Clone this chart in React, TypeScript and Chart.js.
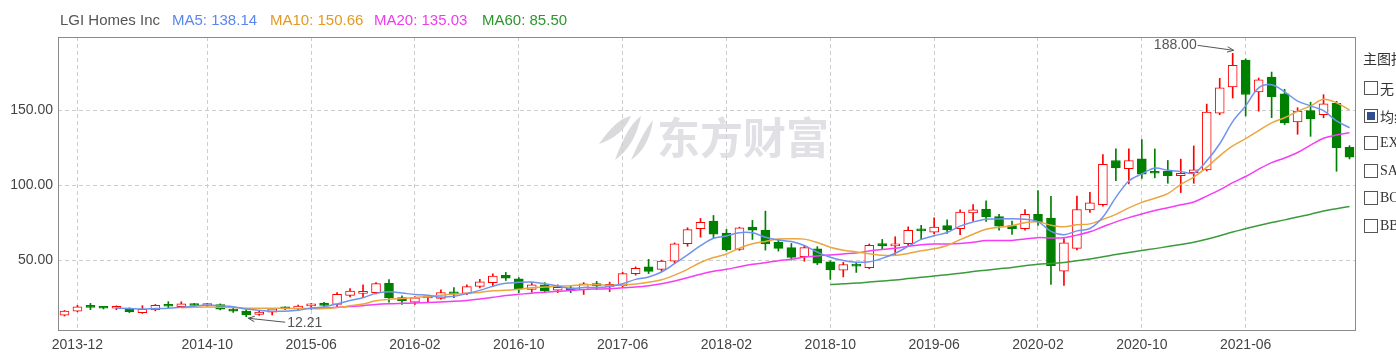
import React, { useEffect, useRef } from 'react';
import { Chart, registerables } from 'chart.js';

Chart.register(...registerables);

const months = [
  '2013-11', '2013-12',
  '2014-01', '2014-02', '2014-03', '2014-04', '2014-05', '2014-06', '2014-07', '2014-08', '2014-09', '2014-10', '2014-11', '2014-12',
  '2015-01', '2015-02', '2015-03', '2015-04', '2015-05', '2015-06', '2015-07', '2015-08', '2015-09', '2015-10', '2015-11', '2015-12',
  '2016-01', '2016-02', '2016-03', '2016-04', '2016-05', '2016-06', '2016-07', '2016-08', '2016-09', '2016-10', '2016-11', '2016-12',
  '2017-01', '2017-02', '2017-03', '2017-04', '2017-05', '2017-06', '2017-07', '2017-08', '2017-09', '2017-10', '2017-11', '2017-12',
  '2018-01', '2018-02', '2018-03', '2018-04', '2018-05', '2018-06', '2018-07', '2018-08', '2018-09', '2018-10', '2018-11', '2018-12',
  '2019-01', '2019-02', '2019-03', '2019-04', '2019-05', '2019-06', '2019-07', '2019-08', '2019-09', '2019-10', '2019-11', '2019-12',
  '2020-01', '2020-02', '2020-03', '2020-04', '2020-05', '2020-06', '2020-07', '2020-08', '2020-09', '2020-10', '2020-11', '2020-12',
  '2021-01', '2021-02', '2021-03', '2021-04', '2021-05', '2021-06', '2021-07', '2021-08', '2021-09', '2021-10', '2021-11', '2021-12',
  '2022-01', '2022-02',
];

const opens = [
  13.3, 16.0, 18.9, 18.6, 17.9, 17.6, 15.0, 16.7, 20.0, 19.0,
  20.6, 19.7, 20.4, 17.4, 16.0, 13.8, 15.2, 18.3, 17.4, 19.5,
  21.3, 20.5, 26.5, 27.8, 28.3, 34.5, 25.0, 22.0, 24.8, 24.5,
  28.8, 27.8, 32.5, 35.0, 39.8, 37.5, 30.5, 33.5, 30.0, 31.5,
  30.3, 34.4, 32.5, 32.8, 41.0, 45.5, 43.8, 49.3, 61.0, 71.0,
  76.0, 68.0, 57.2, 72.0, 69.8, 62.0, 58.3, 52.3, 57.6, 48.9,
  43.3, 47.3, 45.0, 61.0, 59.5, 61.0, 70.9, 68.7, 73.0, 71.0,
  81.5, 84.0, 79.0, 73.0, 71.0, 80.5, 78.0, 42.7, 57.8, 83.5,
  87.0, 116.5, 111.0, 117.6, 109.3, 109.5, 106.3, 108.3, 110.2, 148.0,
  165.6, 183.5, 162.2, 172.2, 161.0, 142.3, 149.8, 147.0, 154.7, 125.3,
];

const highs = [
  16.4, 19.8, 21.1, 18.9, 19.5, 18.2, 19.6, 20.4, 22.3, 22.2,
  21.1, 21.0, 20.8, 18.6, 17.1, 16.0, 17.8, 18.8, 20.0, 21.0,
  21.8, 28.3, 31.0, 33.5, 35.0, 37.0, 26.2, 25.6, 26.0, 30.1,
  31.7, 33.5, 37.1, 40.9, 41.8, 38.4, 35.0, 35.0, 33.5, 32.5,
  35.0, 35.8, 35.3, 41.9, 45.5, 50.5, 50.0, 61.5, 71.6, 77.8,
  79.8, 70.5, 72.0, 76.5, 82.7, 64.0, 61.1, 59.2, 59.0, 49.5,
  48.5, 48.6, 60.8, 63.8, 65.6, 72.2, 73.3, 78.2, 76.9, 83.5,
  87.1, 89.6, 80.5, 76.0, 83.8, 96.4, 92.5, 64.3, 92.7, 95.3,
  120.5, 124.2, 124.2, 130.5, 124.2, 116.5, 117.4, 126.2, 154.1, 171.3,
  188.0, 184.3, 171.5, 175.5, 164.0, 151.7, 155.4, 160.4, 156.0, 126.4,
];

const lows = [
  12.7, 15.5, 16.9, 17.4, 16.9, 15.0, 14.4, 16.2, 18.2, 18.2,
  19.0, 19.2, 16.8, 15.1, 12.21, 13.1, 13.5, 17.0, 16.8, 17.1,
  19.3, 18.9, 25.5, 24.9, 27.5, 22.0, 20.4, 20.4, 22.0, 24.0,
  24.9, 27.0, 31.5, 32.7, 36.4, 28.3, 28.5, 28.5, 28.3, 28.3,
  27.1, 30.5, 29.0, 32.0, 40.0, 41.0, 42.5, 48.0, 59.3, 65.3,
  64.7, 56.0, 56.5, 63.8, 56.7, 56.0, 50.0, 49.3, 47.0, 37.1,
  38.8, 41.8, 44.2, 57.0, 53.1, 59.5, 63.8, 67.5, 67.8, 67.0,
  76.0, 75.9, 70.0, 67.1, 70.0, 73.1, 33.8, 33.1, 56.8, 81.8,
  86.0, 103.0, 100.9, 104.5, 104.9, 101.3, 95.1, 101.3, 109.5, 147.0,
  158.2, 146.2, 149.4, 145.1, 140.5, 134.0, 132.6, 145.0, 109.3, 117.5,
];

const closes = [
  16.0, 18.9, 18.5, 17.9, 18.1, 15.4, 17.2, 19.8, 19.2, 20.8,
  19.7, 20.5, 17.2, 16.0, 13.4, 15.3, 17.5, 17.5, 19.3, 20.0,
  19.8, 27.1, 29.3, 28.5, 34.3, 25.0, 23.0, 24.8, 25.4, 28.4,
  27.5, 32.3, 35.5, 39.3, 38.0, 30.8, 33.5, 29.5, 31.8, 30.0,
  34.2, 33.0, 33.0, 41.0, 44.5, 42.5, 49.3, 60.9, 70.3, 75.3,
  67.3, 57.0, 71.5, 70.0, 60.8, 57.8, 51.8, 58.3, 48.0, 43.5,
  47.1, 46.0, 59.8, 59.5, 60.5, 69.8, 69.5, 72.0, 70.2, 82.0,
  83.6, 78.8, 72.7, 71.0, 80.5, 75.5, 46.3, 61.5, 83.8, 88.3,
  114.0, 111.6, 116.5, 107.3, 108.0, 106.3, 108.0, 110.3, 148.8, 165.0,
  180.0, 160.5, 170.4, 159.0, 141.5, 149.4, 144.3, 154.3, 125.1, 118.7,
];

const xTickLabels = [
  '2013-12', '2014-10', '2015-06', '2016-02', '2016-10', '2017-06',
  '2018-02', '2018-10', '2019-06', '2020-02', '2020-10', '2021-06',
];
const yTickValues = [50, 100, 150];

const stockName = 'LGI Homes Inc';
const maPeriods = [5, 10, 20, 60];
const maNames = ['MA5', 'MA10', 'MA20', 'MA60'];
const maValues = ['138.14', '150.66', '135.03', '85.50'];
const maColors = ['#6f93ef', '#eaa63f', '#f53df5', '#3b9b3b'];
const maTextColors = ['#5b86ee', '#e39a22', '#f03cf0', '#2d962d'];

const indicatorTitle = '主图指标';
const indicatorNames = ['无', '均线', 'EXPMA', 'SAR', 'BOLL', 'BBI'];
const indicatorChecked = [false, true, false, false, false, false];

const UP = '#ff0000';
const DOWN = '#008000';

function movingAverage(values: number[], period: number): (number | null)[] {
  return values.map((_, i) => {
    if (i < period - 1) return null;
    let s = 0;
    for (let k = i - period + 1; k <= i; k++) s += values[k];
    return s / period;
  });
}

function drawArrow(ctx: CanvasRenderingContext2D, x1: number, y1: number, x2: number, y2: number) {
  ctx.beginPath();
  ctx.moveTo(x1, y1);
  ctx.lineTo(x2, y2);
  ctx.stroke();
  const ang = Math.atan2(y2 - y1, x2 - x1);
  const len = 7;
  ctx.beginPath();
  ctx.moveTo(x2, y2);
  ctx.lineTo(x2 - len * Math.cos(ang - 0.4), y2 - len * Math.sin(ang - 0.4));
  ctx.moveTo(x2, y2);
  ctx.lineTo(x2 - len * Math.cos(ang + 0.4), y2 - len * Math.sin(ang + 0.4));
  ctx.stroke();
}

const decorPlugin = {
  id: 'decor',
  beforeDatasetsDraw(chart: any) {
    const { ctx, chartArea } = chart;
    const cx = (chartArea.left + chartArea.right) / 2;
    const cy = chartArea.top + 101;
    ctx.save();
    // logo swooshes
    ctx.fillStyle = 'rgba(205,205,210,0.75)';
    const lx = cx - 78;
    const shapes = [
      [lx - 30, cy + 6, lx - 12, cy - 20, lx + 2, cy - 22, lx - 6, cy - 2],
      [lx - 14, cy + 22, lx - 2, cy - 12, lx + 12, cy - 22, lx + 6, cy + 8],
      [lx + 2, cy + 22, lx + 14, cy - 6, lx + 24, cy - 18, lx + 20, cy + 10],
    ];
    shapes.forEach((s) => {
      ctx.beginPath();
      ctx.moveTo(s[0], s[1]);
      ctx.quadraticCurveTo(s[2], s[3], s[4], s[5]);
      ctx.quadraticCurveTo(s[6], s[7], s[0], s[1]);
      ctx.fill();
    });
    ctx.font = 'bold 43px "Noto Sans CJK SC"';
    ctx.fillStyle = 'rgba(212,212,218,0.7)';
    ctx.textBaseline = 'middle';
    ctx.textAlign = 'left';
    ctx.fillText('东方财富', cx - 50, cy);
    ctx.restore();
  },
  afterDraw(chart: any) {
    const { ctx, chartArea, scales } = chart;
    ctx.save();
    ctx.strokeStyle = '#8a8a8a';
    ctx.lineWidth = 1;
    ctx.strokeRect(
      Math.round(chartArea.left) + 0.5,
      Math.round(chartArea.top) + 0.5,
      Math.round(chartArea.right - chartArea.left) - 1,
      Math.round(chartArea.bottom - chartArea.top) - 1,
    );
    // max / min annotations
    let maxI = 0;
    let minI = 0;
    highs.forEach((h, i) => { if (h > highs[maxI]) maxI = i; });
    lows.forEach((l, i) => { if (l < lows[minI]) minI = i; });
    const xs = scales.x;
    const ys = scales.y;
    ctx.strokeStyle = '#555';
    ctx.fillStyle = '#555';
    ctx.font = '14px "Liberation Sans", Arial, sans-serif';
    ctx.textBaseline = 'middle';
    const hx = xs.getPixelForValue(maxI);
    const hy = ys.getPixelForValue(highs[maxI]);
    ctx.textAlign = 'right';
    ctx.fillText(highs[maxI].toFixed(2), hx - 36, hy - 8);
    drawArrow(ctx, hx - 35, hy - 8, hx + 1, hy - 3);
    const lx = xs.getPixelForValue(minI);
    const ly = ys.getPixelForValue(lows[minI]);
    ctx.textAlign = 'left';
    ctx.fillText(lows[minI].toFixed(2), lx + 41, ly + 6);
    drawArrow(ctx, lx + 39, ly + 5.5, lx + 2, ly + 1.5);
    ctx.restore();
  },
};

export default function App() {
  const canvasRef = useRef<HTMLCanvasElement | null>(null);

  useEffect(() => {
    const canvas = canvasRef.current;
    if (!canvas) return;
    const isUp = closes.map((c, i) => c >= opens[i]);
    const bodies = opens.map((o, i) => [Math.min(o, closes[i]), Math.max(o, closes[i])]);
    const wicks = lows.map((l, i) => [l, highs[i]]);
    const maDatasets = maPeriods.map((p, k) => ({
      type: 'line' as const,
      label: maNames[k],
      data: movingAverage(closes, p),
      borderColor: maColors[k],
      borderWidth: 1.5,
      pointRadius: 0,
      tension: 0.35,
      fill: false,
      order: 0,
    }));

    const chart = new Chart(canvas, {
      type: 'bar',
      data: {
        labels: months,
        datasets: [
          ...maDatasets,
          {
            type: 'bar',
            label: 'body',
            data: bodies as any,
            backgroundColor: isUp.map((u) => (u ? '#ffffff' : DOWN)),
            borderColor: isUp.map((u) => (u ? UP : DOWN)),
            borderWidth: 1,
            borderSkipped: false,
            barThickness: 9,
            minBarLength: 2,
            grouped: false,
            order: 1,
          },
          {
            type: 'bar',
            label: 'wick',
            data: wicks as any,
            backgroundColor: isUp.map((u) => (u ? UP : DOWN)),
            borderWidth: 0,
            barThickness: 1,
            grouped: false,
            order: 2,
          },
        ] as any,
      },
      options: {
        responsive: false,
        animation: false,
        devicePixelRatio: 1,
        layout: { padding: { top: 37, right: 40, left: 0, bottom: 0 } },
        plugins: { legend: { display: false }, tooltip: { enabled: false } },
        events: [],
        scales: {
          x: {
            type: 'category',
            offset: true,
            grid: { offset: false, color: '#cdcdcd', drawTicks: false, lineWidth: 1 },
            border: { display: false, dash: [4, 3] },
            ticks: {
              autoSkip: false,
              maxRotation: 0,
              color: '#444',
              padding: 6,
              font: { size: 14, family: '"Liberation Sans", Arial, sans-serif' },
            },
            afterBuildTicks: (scale: any) => {
              scale.ticks = scale.ticks.filter((t: any) => xTickLabels.includes(months[t.value]));
            },
            afterFit: (scale: any) => { scale.height = 27; },
          },
          y: {
            type: 'linear',
            min: 2.7,
            max: 198.9,
            grid: { color: '#cdcdcd', drawTicks: false, lineWidth: 1 },
            border: { display: false, dash: [4, 3] },
            ticks: {
              color: '#444',
              padding: 5,
              font: { size: 14, family: '"Liberation Sans", Arial, sans-serif' },
              callback: (v: any) => Number(v).toFixed(2),
            },
            afterBuildTicks: (scale: any) => {
              scale.ticks = yTickValues.map((v) => ({ value: v }));
            },
            afterFit: (scale: any) => { scale.width = 58; },
          },
        },
      },
      plugins: [decorPlugin],
    });
    return () => chart.destroy();
  }, []);

  const headerPos = [172, 270, 374, 482];

  return (
    <div style={{ position: 'fixed', left: 0, top: 0, width: 1396, height: 358, overflow: 'hidden', background: '#fff' }}>
      <canvas ref={canvasRef} width={1396} height={358} style={{ position: 'absolute', left: 0, top: 0, width: 1396, height: 358, display: 'block' }} />
      <div style={{ position: 'absolute', left: 60, top: 12, fontSize: 15, lineHeight: '16px', fontFamily: '"Liberation Sans", Arial, sans-serif', color: '#555', whiteSpace: 'nowrap' }}>
        {stockName}
      </div>
      {maNames.map((n, k) => (
        <div key={n} style={{ position: 'absolute', left: headerPos[k], top: 12, fontSize: 15, lineHeight: '16px', fontFamily: '"Liberation Sans", Arial, sans-serif', color: maTextColors[k], whiteSpace: 'nowrap' }}>
          {n}: {maValues[k]}
        </div>
      ))}
      <div style={{ position: 'absolute', left: 1363, top: 50, fontSize: 14, lineHeight: '16px', fontFamily: '"Noto Sans CJK SC", sans-serif', color: '#333', whiteSpace: 'nowrap' }}>
        {indicatorTitle}
      </div>
      {indicatorNames.map((n, k) => (
        <div key={n} style={{ position: 'absolute', left: 1364, top: 81 + k * 27.6, height: 14, whiteSpace: 'nowrap' }}>
          <div style={{ position: 'absolute', left: 0, top: 0, width: 12, height: 12, border: '1px solid #555', background: '#fff' }}>
            {indicatorChecked[k] ? (
              <div style={{ position: 'absolute', left: 2, top: 2, width: 8, height: 8, background: '#2f4f8f' }} />
            ) : null}
          </div>
          <span style={{ position: 'absolute', left: 16, top: -1, fontSize: 14, lineHeight: '16px', color: '#333', fontFamily: /[A-Z]/.test(n) ? '"Liberation Serif", serif' : '"Noto Sans CJK SC", sans-serif' }}>
            {n}
          </span>
        </div>
      ))}
    </div>
  );
}
